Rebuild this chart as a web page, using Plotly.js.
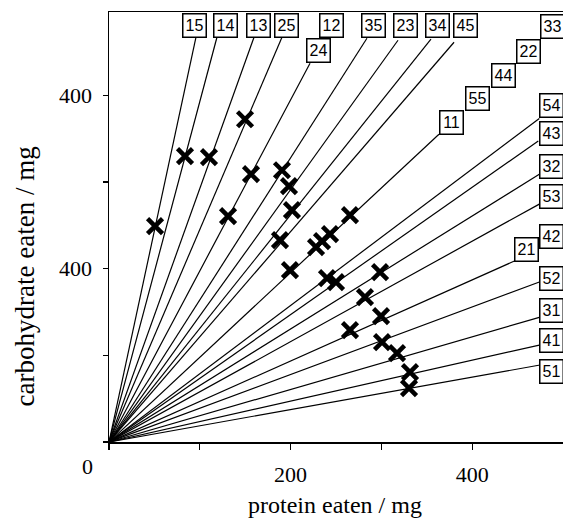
<!DOCTYPE html>
<html>
<head>
<meta charset="utf-8">
<script src="https://cdn.plot.ly/plotly-3.0.1.min.js"></script>
<style>html,body{margin:0;padding:0;background:#fff;}#chart{width:563px;height:522px;}</style>
</head>
<body>
<div id="chart"></div>
<script>
// Individual insects: protein and carbohydrate eaten (mg)
const proteinEaten = [50.7, 83.7, 110.1, 149.8, 156.4, 131.1, 190.5, 198.2, 201.5, 188.3, 199.3, 228.0, 234.6, 243.4, 265.4, 240.1, 250.0, 298.5, 281.9, 299.6, 265.4, 300.7, 317.2, 331.5, 330.4];
const carbEaten    = [249.0, 329.7, 328.5, 372.3, 308.9, 260.5, 313.5, 295.1, 267.4, 232.9, 198.3, 224.8, 231.7, 239.8, 261.7, 189.0, 184.4, 196.0, 167.1, 145.2, 129.1, 115.3, 102.6, 80.7, 62.2];

// Nutritional rails (drawn from origin to where they meet their label)
const railNames   = ['15','14','13','25','24','35','23','34','45','11','54','43','32','53','21','52','31','41','51'];
const railEndProt = [95.8, 118.9, 159.7, 190.5, 221.4, 284.1, 318.3, 354.6, 380.0, 363.4, 473.9, 472.8, 473.9, 473.9, 447.1, 474.7, 473.9, 473.9, 474.7];
const railEndCarb = [466.9, 466.9, 466.9, 466.9, 436.9, 465.7, 463.4, 464.6, 461.1, 355.0, 373.1, 347.3, 308.9, 274.4, 209.0, 184.8, 143.7, 111.8, 88.8];

// Rail label boxes (centre of each box, in mg)
const labelText = ['15','14','13','25','12','35','23','34','45','33','24','22','44','55','11','54','43','32','53','42','21','52','31','41','51'];
const labelProt = [94.7, 127.8, 164.1, 195.5, 245.0, 291.6, 326.9, 361.4, 392.1, 487.9, 230.7, 461.5, 435.0, 405.8, 376.7, 487.3, 487.3, 487.3, 487.3, 487.3, 459.8, 487.3, 487.3, 487.3, 487.3];
const labelCarb = [480.1, 480.1, 480.1, 480.1, 480.1, 480.1, 480.1, 480.1, 480.1, 479.0, 451.3, 450.7, 423.1, 396.0, 368.9, 387.9, 356.4, 317.6, 283.0, 237.5, 222.5, 188.1, 151.2, 116.6, 81.3];

// Axis ticks
const xTickVals = [0, 100, 200, 300, 400];
const xTickText = ['', '', '200', '', '400'];
const yTickVals = [0, 100, 200, 300, 400];
const yTickText = ['', '', '400', '', '400'];

const railX = [], railY = [];
railNames.forEach((n, i) => {
  railX.push(0, railEndProt[i], null);
  railY.push(0, railEndCarb[i], null);
});

const traces = [
  {
    type: 'scatter', mode: 'lines', x: railX, y: railY,
    line: {color: '#000', width: 1.2}, hoverinfo: 'skip', showlegend: false
  },
  {
    type: 'scatter', mode: 'markers', x: proteinEaten, y: carbEaten,
    marker: {symbol: 'x-thin', size: 15, color: '#000', line: {color: '#000', width: 4.5}},
    showlegend: false
  }
];

const serif = 'Liberation Serif, Times New Roman, serif';
const annotations = labelText.map((t, i) => ({
  xref: 'x', yref: 'y', x: labelProt[i], y: labelCarb[i],
  text: t, showarrow: false, xanchor: 'center', yanchor: 'middle',
  font: {family: 'Liberation Sans, Arial, sans-serif', size: 16, color: '#000'},
  bgcolor: '#fff', bordercolor: '#000', borderwidth: 1.5, borderpad: 1,
  width: 20, height: 20
}));
annotations.push(
  {xref: 'paper', yref: 'paper', x: 0.498, y: -0.1465, xanchor: 'center', yanchor: 'middle',
   text: 'protein eaten / mg', showarrow: false, font: {family: serif, size: 24, color: '#000'}},
  {xref: 'paper', yref: 'paper', x: -0.185, y: 0.385, xanchor: 'center', yanchor: 'middle', textangle: -90,
   text: 'carbohydrate eaten / mg', showarrow: false, font: {family: serif, size: 27, color: '#000'}},
  {xref: 'paper', yref: 'paper', x: -0.0463, y: -0.0581, xanchor: 'center', yanchor: 'middle',
   text: '0', showarrow: false, font: {family: serif, size: 22, color: '#000'}}
);

const layout = {
  width: 563, height: 522, autosize: false,
  margin: {l: 109, r: 0, t: 12, b: 80, pad: 0},
  paper_bgcolor: '#fff', plot_bgcolor: '#fff',
  showlegend: false,
  xaxis: {
    range: [0, 500], showgrid: false, zeroline: false,
    showline: true, linecolor: '#000', linewidth: 1.5, mirror: true,
    ticks: 'outside', ticklen: 6, tickwidth: 1.3, tickcolor: '#000',
    tickmode: 'array', tickvals: xTickVals, ticktext: xTickText,
    ticklabelstandoff: 6,
    tickfont: {family: serif, size: 22, color: '#000'}
  },
  yaxis: {
    range: [0, 496], showgrid: false, zeroline: false,
    showline: true, linecolor: '#000', linewidth: 1.5,
    ticks: 'outside', ticklen: 5, tickwidth: 1.3, tickcolor: '#000',
    tickmode: 'array', tickvals: yTickVals, ticktext: yTickText,
    ticklabelstandoff: 6,
    tickfont: {family: serif, size: 22, color: '#000'}
  },
  annotations: annotations
};

Plotly.newPlot('chart', traces, layout, {staticPlot: true, displayModeBar: false});
</script>
</body>
</html>
